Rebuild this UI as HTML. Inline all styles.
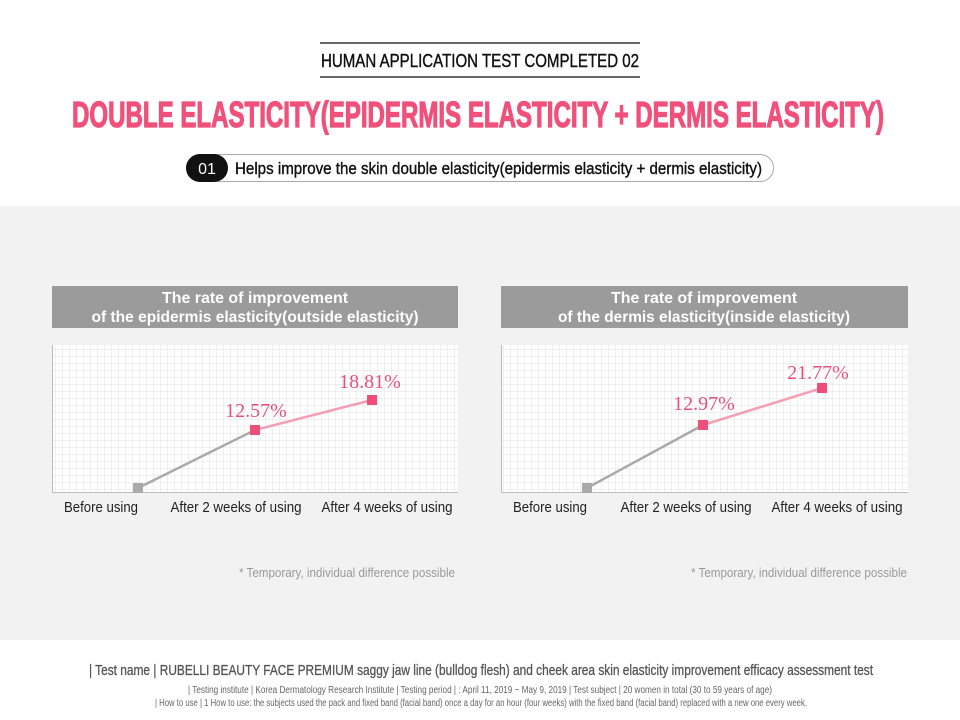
<!DOCTYPE html>
<html><head><meta charset="utf-8"><style>body{margin:0;background:#fff}svg{display:block}</style></head><body>
<svg width="960" height="720" xmlns="http://www.w3.org/2000/svg" font-family="Liberation Sans Narrow, Liberation Sans, sans-serif">
<defs>
<pattern id="g" width="7" height="7" patternUnits="userSpaceOnUse"><path d="M7 0V7M0 7H7" stroke="#e2e2e2" stroke-width="1" fill="none"/></pattern>
</defs>
<rect x="0" y="206" width="960" height="434" fill="#f2f2f2"/>
<line x1="320" y1="43" x2="640" y2="43" stroke="#333" stroke-width="1.5"/>
<line x1="320" y1="77" x2="640" y2="77" stroke="#333" stroke-width="1.5"/>
<text x="480" y="67" text-anchor="middle" font-size="18" fill="#111" stroke="#111" stroke-width="0.4" textLength="318" lengthAdjust="spacingAndGlyphs">HUMAN APPLICATION TEST COMPLETED 02</text>
<text x="478" y="127" text-anchor="middle" font-size="36" font-weight="bold" fill="#f0507a" stroke="#f0507a" stroke-width="1.2" textLength="812" lengthAdjust="spacingAndGlyphs">DOUBLE ELASTICITY(EPIDERMIS ELASTICITY + DERMIS ELASTICITY)</text>
<rect x="186.5" y="154.5" width="587" height="27" rx="13.5" fill="#fff" stroke="#aaa"/>
<rect x="186" y="154" width="42" height="28" rx="14" fill="#111"/>
<text x="207" y="174" text-anchor="middle" font-size="16" fill="#fff">01</text>
<text x="235" y="174" font-size="17" fill="#111" stroke="#111" stroke-width="0.4" textLength="527" lengthAdjust="spacingAndGlyphs">Helps improve the skin double elasticity(epidermis elasticity + dermis elasticity)</text>

<g>
<rect x="52" y="286" width="406" height="42" fill="#9b9b9b"/>
<text x="255" y="303" text-anchor="middle" font-size="16" font-weight="bold" fill="#fff" font-family="Liberation Sans, sans-serif" textLength="186" lengthAdjust="spacingAndGlyphs">The rate of improvement</text>
<text x="255" y="322" text-anchor="middle" font-size="16" font-weight="bold" fill="#fff" font-family="Liberation Sans, sans-serif" textLength="327" lengthAdjust="spacingAndGlyphs">of the epidermis elasticity(outside elasticity)</text>
<rect x="52" y="345" width="406" height="147" fill="#fff"/>
<rect x="52" y="345" width="406" height="147" fill="url(#g)"/>
<line x1="52.5" y1="345" x2="52.5" y2="492" stroke="#bbb"/>
<line x1="52" y1="492.5" x2="458" y2="492.5" stroke="#bbb"/>
<line x1="138" y1="488" x2="255" y2="430" stroke="#aaa" stroke-width="2.5"/>
<line x1="255" y1="430" x2="372" y2="400" stroke="#f3a0b5" stroke-width="2.5"/>
<rect x="133" y="483" width="10" height="10" fill="#aaa"/>
<rect x="250" y="425" width="10" height="10" fill="#ee4f78"/>
<rect x="367" y="395" width="10" height="10" fill="#ee4f78"/>
<text x="256" y="417" text-anchor="middle" font-size="20" fill="#e8507a" font-family="Liberation Serif, serif">12.57%</text>
<text x="370" y="388" text-anchor="middle" font-size="20" fill="#e8507a" font-family="Liberation Serif, serif">18.81%</text>
<text x="101" y="512" text-anchor="middle" font-size="15" fill="#222" font-family="Liberation Sans, sans-serif" textLength="74" lengthAdjust="spacingAndGlyphs">Before using</text>
<text x="236" y="512" text-anchor="middle" font-size="15" fill="#222" font-family="Liberation Sans, sans-serif" textLength="131" lengthAdjust="spacingAndGlyphs">After 2 weeks of using</text>
<text x="387" y="512" text-anchor="middle" font-size="15" fill="#222" font-family="Liberation Sans, sans-serif" textLength="131" lengthAdjust="spacingAndGlyphs">After 4 weeks of using</text>
<text x="455" y="577" text-anchor="end" font-size="13" fill="#999" textLength="216" lengthAdjust="spacingAndGlyphs">* Temporary, individual difference possible</text>
</g>

<g>
<rect x="501" y="286" width="407" height="42" fill="#9b9b9b"/>
<text x="704" y="303" text-anchor="middle" font-size="16" font-weight="bold" fill="#fff" font-family="Liberation Sans, sans-serif" textLength="186" lengthAdjust="spacingAndGlyphs">The rate of improvement</text>
<text x="704" y="322" text-anchor="middle" font-size="16" font-weight="bold" fill="#fff" font-family="Liberation Sans, sans-serif" textLength="292" lengthAdjust="spacingAndGlyphs">of the dermis elasticity(inside elasticity)</text>
<rect x="501" y="345" width="407" height="147" fill="#fff"/>
<rect x="501" y="345" width="407" height="147" fill="url(#g)"/>
<line x1="501.5" y1="345" x2="501.5" y2="492" stroke="#bbb"/>
<line x1="501" y1="492.5" x2="908" y2="492.5" stroke="#bbb"/>
<line x1="587" y1="488" x2="703" y2="425" stroke="#aaa" stroke-width="2.5"/>
<line x1="703" y1="425" x2="822" y2="388" stroke="#f3a0b5" stroke-width="2.5"/>
<rect x="582" y="483" width="10" height="10" fill="#aaa"/>
<rect x="698" y="420" width="10" height="10" fill="#ee4f78"/>
<rect x="817" y="383" width="10" height="10" fill="#ee4f78"/>
<text x="704" y="410" text-anchor="middle" font-size="20" fill="#e8507a" font-family="Liberation Serif, serif">12.97%</text>
<text x="818" y="379" text-anchor="middle" font-size="20" fill="#e8507a" font-family="Liberation Serif, serif">21.77%</text>
<text x="550" y="512" text-anchor="middle" font-size="15" fill="#222" font-family="Liberation Sans, sans-serif" textLength="74" lengthAdjust="spacingAndGlyphs">Before using</text>
<text x="686" y="512" text-anchor="middle" font-size="15" fill="#222" font-family="Liberation Sans, sans-serif" textLength="131" lengthAdjust="spacingAndGlyphs">After 2 weeks of using</text>
<text x="837" y="512" text-anchor="middle" font-size="15" fill="#222" font-family="Liberation Sans, sans-serif" textLength="131" lengthAdjust="spacingAndGlyphs">After 4 weeks of using</text>
<text x="907" y="577" text-anchor="end" font-size="13" fill="#999" textLength="216" lengthAdjust="spacingAndGlyphs">* Temporary, individual difference possible</text>
</g>

<text x="481" y="675" text-anchor="middle" font-size="15" fill="#555" stroke="#555" stroke-width="0.3" textLength="784" lengthAdjust="spacingAndGlyphs">| Test name |  RUBELLI BEAUTY FACE PREMIUM saggy jaw line (bulldog flesh) and cheek area skin elasticity improvement efficacy assessment test</text>
<text x="480" y="693" text-anchor="middle" font-size="10" fill="#666" textLength="584" lengthAdjust="spacingAndGlyphs">| Testing institute |  Korea Dermatology Research Institute  | Testing period | : April 11, 2019 ~ May 9, 2019   | Test subject |  20 women in total (30 to 59 years of age)</text>
<text x="481" y="706" text-anchor="middle" font-size="10" fill="#666" textLength="652" lengthAdjust="spacingAndGlyphs">| How to use |  1 How to use: the subjects used the pack and fixed band (facial band) once a day for an hour (four weeks) with the fixed band (facial band) replaced with a new one every week.</text>
</svg>
</body></html>
